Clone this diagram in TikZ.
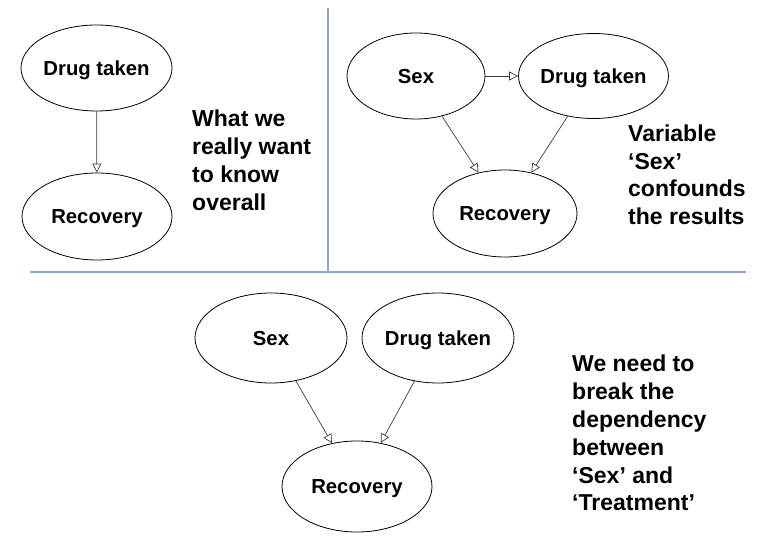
\documentclass[tikz,border=0pt]{standalone}
\usepackage{fontspec}
\setmainfont{Liberation Sans}
\usetikzlibrary{shapes.geometric,arrows.meta}
\definecolor{divider}{RGB}{140,166,216}
\definecolor{edgecol}{RGB}{60,60,60}
\tikzset{
  var/.style={ellipse, draw=black, line width=0.8pt, inner sep=0pt,
    text height=14.6pt, text depth=0pt,
    font=\fontsize{20.3}{22}\selectfont\bfseries},
  dep/.style={draw=edgecol, line width=0.7pt,
    -{Triangle[open,length=9pt,width=9pt,line width=0.7pt]}},
  note/.style={anchor=north west, inner sep=0pt, align=left,
    font=\fontsize{23}{27.8}\selectfont\bfseries},
  sep/.style={draw=divider, line width=1.1pt}
}
\begin{document}
\begin{tikzpicture}[x=1pt,y=-1pt]
\useasboundingbox (0,0) rectangle (774,553);
\fill[white] (0,0) rectangle (774,553);
% dividers
\coordinate (vtop) at (328,8);
\coordinate (vbot) at (328,272);
\coordinate (hl) at (30,272);
\coordinate (hr) at (746,272);
\draw[sep] (vtop) -- (vbot);
\draw[sep] (hl) -- (hr);
% panel 1
\node[var, minimum width=151, minimum height=86] (d1) at (96.5,68) {Drug taken};
\node[var, minimum width=150, minimum height=87] (r1) at (97,216.5) {Recovery};
\draw[dep] (d1) -- (r1);
\node[note] (t1) at (192,110) {What we\\really want\\to know\\overall};
% panel 2
\node[var, minimum width=138, minimum height=86] (s2) at (416,76) {Sex};
\node[var, minimum width=144, minimum height=85] (d2) at (593.5,76) {Drug taken};
\node[var, minimum width=144, minimum height=87] (r2) at (505,213.5) {Recovery};
\draw[dep] (s2) -- (d2);
\draw[dep] (s2) -- (r2);
\draw[dep] (d2) -- (r2);
\node[note] (t2) at (628,124.5) {Variable\\‘Sex’\\confounds\\the results};
% panel 3
\node[var, minimum width=152, minimum height=90] (s3) at (271,338) {Sex};
\node[var, minimum width=152, minimum height=90] (d3) at (438,338) {Drug taken};
\node[var, minimum width=150, minimum height=91] (r3) at (357,486.5) {Recovery};
\draw[dep] (s3) -- (r3);
\draw[dep] (d3) -- (r3);
\node[note] (t3) at (572,355) {We need to\\break the\\dependency\\between\\‘Sex’ and\\‘Treatment’};
\end{tikzpicture}
\end{document}
